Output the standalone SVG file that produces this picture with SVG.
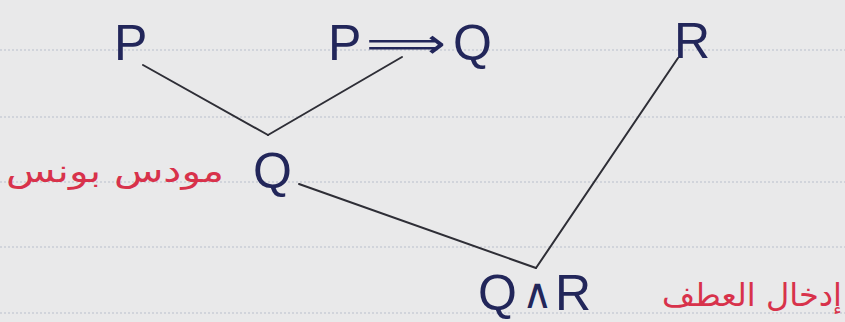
<svg xmlns="http://www.w3.org/2000/svg" width="845" height="322" viewBox="0 0 845 322">
  <style>
    .ink { font-family: "Liberation Sans", "DejaVu Sans", sans-serif; font-size: 50px; fill: #22265a; }
    .sym { font-family: "DejaVu Sans", sans-serif; font-size: 42px; fill: #22265a; }
    .red { font-family: "DejaVu Sans", "Noto Sans", sans-serif; font-size: 32px; fill: #d8324b; }
    .edge { stroke: #2e2e36; stroke-width: 2; fill: none; stroke-linecap: round; }
    .rule { stroke: #c9cdd6; stroke-width: 1.5; stroke-dasharray: 2 2; }
  </style>
  <rect x="0" y="0" width="845" height="322" fill="#e9e9ea"/>
  <g id="paper-rules">
    <line class="rule" x1="0" y1="50" x2="845" y2="50"/>
    <line class="rule" x1="0" y1="117" x2="845" y2="117"/>
    <line class="rule" x1="0" y1="182" x2="845" y2="182"/>
    <line class="rule" x1="0" y1="247" x2="845" y2="247"/>
    <line class="rule" x1="0" y1="313" x2="845" y2="313"/>
  </g>
  <g id="connectors">
    <line class="edge" x1="143" y1="65" x2="268" y2="135"/>
    <line class="edge" x1="268" y1="135" x2="402" y2="57"/>
    <line class="edge" x1="299" y1="184" x2="536" y2="268"/>
    <line class="edge" x1="536" y1="268" x2="678" y2="58"/>
  </g>
  <g id="node-P">
    <text class="ink" x="114" y="60">P</text>
  </g>
  <g id="node-PimpQ">
    <text class="ink" x="328" y="60">P</text>
    <text class="sym" x="366" y="58" textLength="80" lengthAdjust="spacingAndGlyphs">⟹</text>
    <text class="ink" x="453" y="60">Q</text>
  </g>
  <g id="node-R">
    <text class="ink" x="674" y="58">R</text>
  </g>
  <g id="node-Q">
    <text class="ink" x="253" y="188">Q</text>
    <text class="red" x="115" y="182" text-anchor="middle" textLength="218" lengthAdjust="spacingAndGlyphs">مودس بونس</text>
  </g>
  <g id="node-QandR">
    <text class="ink" x="478" y="310">Q</text>
    <text class="sym" x="522" y="308">∧</text>
    <text class="ink" x="555" y="310">R</text>
    <text class="red" x="752" y="306" text-anchor="middle" textLength="180" lengthAdjust="spacingAndGlyphs">إدخال العطف</text>
  </g>
</svg>
